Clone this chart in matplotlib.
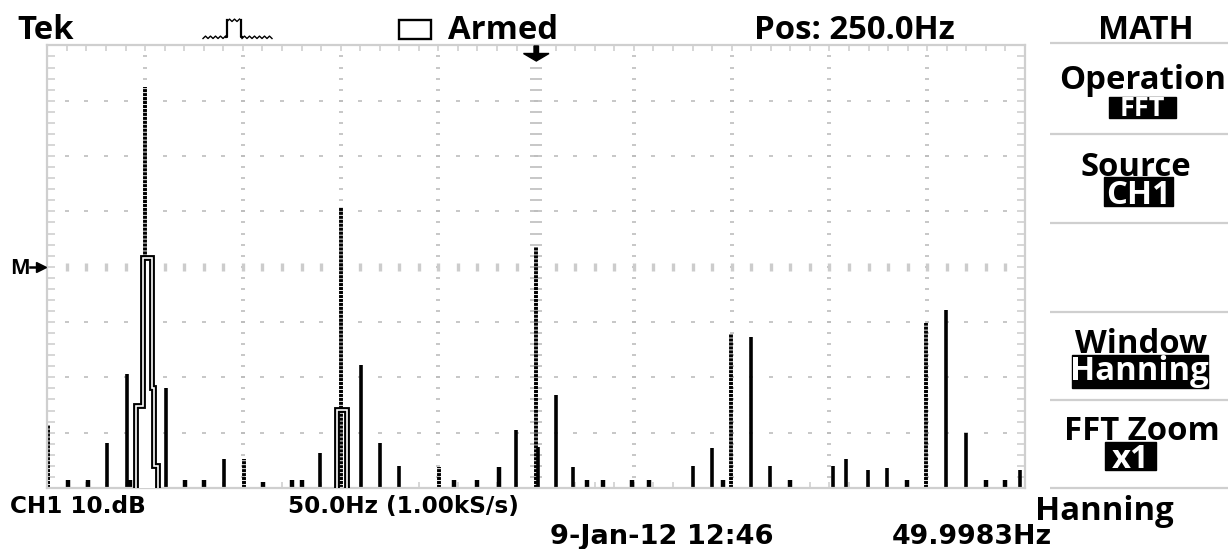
import matplotlib
matplotlib.use('Agg')
import matplotlib.pyplot as plt
import numpy as np
from matplotlib.patches import Rectangle, Polygon

plt.rcParams['font.family'] = ['Open Sans', 'DejaVu Sans']
plt.rcParams['font.weight'] = 'bold'
plt.rcParams['lines.scale_dashes'] = False

# FFT spectrum (Hz, dB), 50 Hz/div, 10 dB/div, ref 0 dB at centre
dashed_freq = [0.5, 50.0, 100.4, 150.2, 200.1, 250.0, 349.9, 449.6]
dashed_db = [-28.6, 32.5, -34.8, 10.8, -36.2, 3.6, -12.2, -10.2]

solid_freq = [30.4, 40.6, 60.5, 90.3, 139.4, 160.2, 170.1, 179.8, 239.8, 250.9,
              260.1, 269.0, 330.0, 339.7, 359.8, 369.5, 401.6, 408.7, 419.8,
              429.5, 459.8, 469.7, 497.6]
solid_db = [-31.9, -19.4, -21.9, -34.8, -33.6, -17.8, -31.9, -36.0, -29.5, -32.5,
            -23.1, -36.2, -36.0, -32.7, -12.7, -36.0, -36.0, -34.8, -36.7,
            -36.4, -7.8, -30.1, -36.7]

small_freq = [10.6, 20.8, 42.4, 70.4, 80.1, 110.3, 125.0, 130.0, 208.1, 220.0,
              230.9, 275.8, 284.0, 298.8, 307.8, 345.6, 379.8, 439.4, 479.8, 489.7]
small_db = [-38.6, -38.6, -38.6, -38.6, -38.6, -39.0, -38.6, -38.6, -38.6, -38.6,
            -36.2, -38.6, -38.6, -38.6, -38.6, -38.6, -38.6, -38.6, -38.6, -38.6]

# stepped envelopes around the 50 Hz and 150 Hz lines
env50_edges = [45.5, 48.8, 53.3, 54.8, 56.5]
env50_db = [-25.2, 1.6, -21.9, -36.0]
env150_edges = [148.3, 153.1]
env150_db = [-25.9]

W, H = 1228, 549
fig = plt.figure(figsize=(W / 100, H / 100), dpi=100)
fig.patch.set_facecolor('white')

# graticule box in pixels
gl, gr, gt, gb = 47.3, 1025.0, 45.4, 488.0
ax = fig.add_axes([gl / W, 1 - gb / H, (gr - gl) / W, (gb - gt) / H])
ax.set_xlim(0, 500)
ax.set_ylim(-40, 40)

grid_c = '#bdbdbd'
for s in ax.spines.values():
    s.set_color('#cfcfcf')
    s.set_linewidth(1.6)
ax.set_xticks(np.arange(0, 501, 50))
ax.set_xticks(np.arange(0, 501, 10), minor=True)
ax.set_yticks(np.arange(-40, 41, 10))
ax.set_yticks(np.arange(-40, 41, 2), minor=True)
ax.tick_params(which='both', direction='in', top=True, right=True,
               labelbottom=False, labelleft=False, color='#cfcfcf', width=1.2)
ax.tick_params(axis='x', which='both', length=4)
ax.tick_params(axis='y', which='both', length=6)

# dotted graticule
ymin_pts = np.arange(-38, 40, 2)
xmin_pts = np.arange(10, 500, 10)
for xm in np.arange(50, 500, 50):
    ms = 8.5 if xm == 250 else 3.0
    ax.plot(np.full(ymin_pts.size, xm), ymin_pts, ls='none', marker='_',
            ms=ms, mew=1.2, color=grid_c, zorder=1)
for ym in np.arange(-30, 40, 10):
    if ym == 0:
        ax.plot(xmin_pts, np.full(xmin_pts.size, ym), ls='none', marker='|',
                ms=6, mew=2.4, color='#cccccc', zorder=1)
    else:
        ax.plot(xmin_pts, np.full(xmin_pts.size, ym), ls='none', marker='_',
                ms=3.0, mew=1.2, color=grid_c, zorder=1)

# the trace
ax.vlines(dashed_freq, -40, dashed_db, colors='black', linewidth=2.8,
          linestyles=[(0, (2.2, 0.65))], zorder=2)
ax.vlines(solid_freq, -40, solid_db, colors='black', linewidth=2.6, zorder=2)
ax.vlines(small_freq, -40, small_db, colors='black', linewidth=3.2, zorder=2)

ax.stairs(env50_db, env50_edges, baseline=-40, fill=True, color='white', zorder=3)
for env_db, env_edges in [(env50_db, env50_edges), (env150_db, env150_edges)]:
    ax.stairs(env_db, env_edges, baseline=-40, color='black', linewidth=4.2, zorder=4)
    ax.stairs(env_db, env_edges, baseline=-40, color='white', linewidth=1.2, zorder=5)

# overlay in pixel coordinates for the scope's text and markers
deco = fig.add_axes([0, 0, 1, 1])
deco.set_xlim(0, W)
deco.set_ylim(H, 0)
deco.axis('off')

big = 23.7

def label(x, y, s, size=big, ha='left', color='black', family=None):
    deco.text(x, y, s, fontsize=size, ha=ha, va='baseline', color=color,
              fontweight='bold', family=family or ['Open Sans', 'DejaVu Sans'])

label(17, 39, 'Tek')
label(447.8, 39, 'Armed')
label(754, 39, 'Pos: 250.0Hz')
label(1146, 39, 'MATH', ha='center')

# acquisition icon (small pulse on a rippled line)
def ripple(x0, x1, y):
    xs = np.arange(x0, x1 + 0.1, 2.5)
    return xs, y + np.where(np.arange(xs.size) % 2 == 0, 1.2, -1.2)

for x0, x1, y in [(203, 226, 37.3), (227, 241, 20.3), (242, 274, 37.3)]:
    xs, ys = ripple(x0, x1, y)
    deco.plot(xs, ys, color='black', lw=1.0)
deco.plot([226, 227, 227], [37.3, 37.3, 20.3], color='black', lw=1.6)
deco.plot([241, 241, 242], [20.3, 37.3, 37.3], color='black', lw=1.6)

deco.add_patch(Rectangle((398.5, 20), 32.5, 19, fill=False, edgecolor='black', lw=1.7))

# trigger position arrow
deco.add_patch(Polygon([[534, 46], [538.5, 46], [538.5, 53.5], [549, 53.5], [536.3, 61],
                        [523.5, 53.5], [534, 53.5]], closed=True, color='black'))

# M reference marker
label(10, 274.5, 'M', size=15)
deco.plot([30, 38], [266.8, 266.8], color='black', lw=1.8)
deco.plot([41], [266.8], marker='>', ms=7.5, color='black')

# right hand menu
deco.hlines([43.3, 134, 222.7, 311.7, 400, 488.3], 1050, W, colors='#cfcfcf', lw=1.6)
label(1143, 89, 'Operation', ha='center')
label(1136, 176.5, 'Source', ha='center')
label(1141, 353, 'Window', ha='center')
label(1142, 440, 'FFT Zoom', ha='center')

boxes = [((1109, 96.7, 67, 21.6), 'FFT', 116.5, 19.5),
         ((1104, 177, 69, 28.7), 'CH1', 203.5, big),
         ((1071.7, 355, 136, 33.3), 'Hanning', 379.5, big),
         ((1105, 441.7, 51, 28.3), 'x1', 468.5, big)]
for (bx, by, bw, bh), txt, base, sz in boxes:
    deco.add_patch(Rectangle((bx, by), bw, bh, color='black'))
    label(bx + bw / 2, base, txt, size=sz, ha='center', color='white')

label(1035, 520, 'Hanning')

# bottom status line
label(10, 513, 'CH1 10.dB', size=16.7, family='DejaVu Sans')
label(288, 513, '50.0Hz (1.00kS/s)', size=16.7, family='DejaVu Sans')
label(550, 543.5, '9-Jan-12 12:46', size=19.6, family='DejaVu Sans')
label(892, 543.5, '49.9983Hz', size=19.3, family='DejaVu Sans')

fig.savefig('out.png', dpi=100)
